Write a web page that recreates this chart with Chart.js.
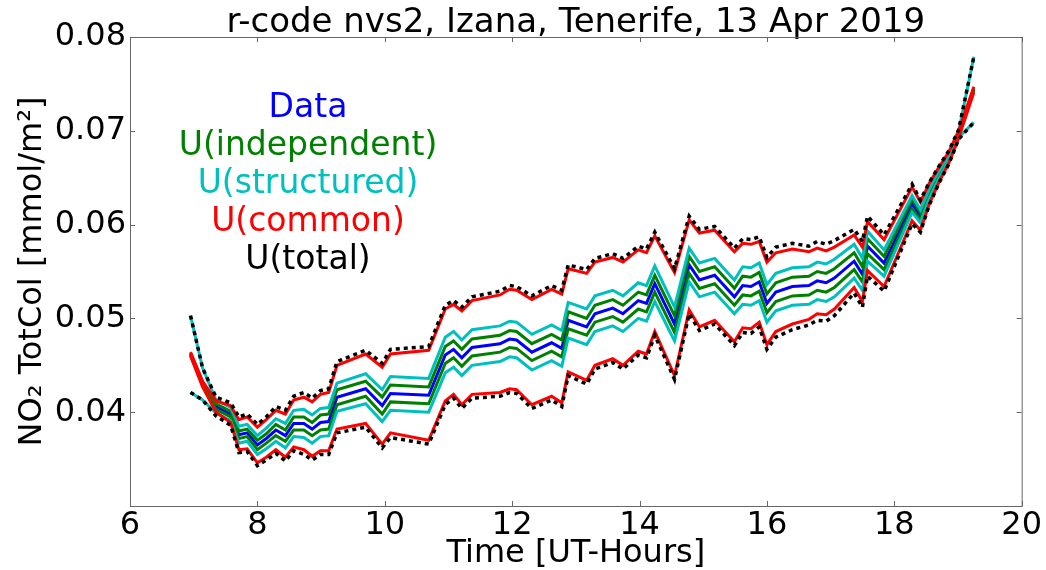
<!DOCTYPE html>
<html>
<head>
<meta charset="utf-8">
<script src="https://cdn.jsdelivr.net/npm/chart.js@4.4.1/dist/chart.umd.min.js"></script>
<style>
html, body { margin: 0; padding: 0; background: #fff; }
#wrap { width: 1046px; height: 570px; }
</style>
</head>
<body>
<div id="wrap"><canvas id="chart"></canvas></div>
<script>
// time of each measurement [UT hours]
const hours = [6.95, 7.14, 7.35, 7.58, 7.71, 7.84, 8.00, 8.14, 8.29, 8.44, 8.57, 8.73, 8.86, 8.99, 9.12, 9.25,
	9.70, 9.96, 10.09, 10.69, 10.95, 11.08, 11.21, 11.37, 11.81, 11.96, 12.07, 12.31, 12.62, 12.78, 12.88, 13.17,
	13.30, 13.58, 13.74, 13.98, 14.11, 14.24, 14.55, 14.78, 14.94, 15.18, 15.49, 15.62, 15.75, 15.88, 16.00, 16.14,
	16.40, 16.66, 16.79, 16.93, 17.06, 17.37, 17.50, 17.58, 17.84, 18.28, 18.41, 18.55, 18.70, 18.86, 19.01, 19.25];

// NO2 total column [mmol/m2]
const no2 = [0.0462, 0.0430, 0.0406, 0.0398, 0.0376, 0.0378, 0.0365, 0.0372, 0.0381, 0.0375, 0.0388, 0.0388, 0.0382, 0.0389, 0.0390, 0.0416,
	0.0425, 0.0407, 0.0420, 0.0418, 0.0461, 0.0467, 0.0458, 0.0469, 0.0473, 0.0478, 0.0477, 0.0464, 0.0474, 0.0468, 0.0498, 0.0491,
	0.0505, 0.0511, 0.0505, 0.0519, 0.0516, 0.0537, 0.0494, 0.0557, 0.0541, 0.0546, 0.0523, 0.0535, 0.0534, 0.0539, 0.0516, 0.0528,
	0.0534, 0.0535, 0.0540, 0.0538, 0.0543, 0.0561, 0.0547, 0.0577, 0.0559, 0.0622, 0.0609, 0.0633, 0.0653, 0.0672, 0.0696, 0.0744];

// uncertainties (half widths)
const uIndep = [0.0001, 0.0002, 0.0003, 0.0003, 0.0004, 0.0004, 0.0005, 0.0005, 0.0006, 0.0006, 0.0007, 0.0007, 0.0007, 0.0008, 0.0008, 0.0008,
	0.0008, 0.0009, 0.0009, 0.0009, 0.0009, 0.0009, 0.0009, 0.0009, 0.0009, 0.0009, 0.0009, 0.0009, 0.0009, 0.0009, 0.0009, 0.0009,
	0.0009, 0.0009, 0.0009, 0.0009, 0.0009, 0.0009, 0.0009, 0.0009, 0.0009, 0.0009, 0.0009, 0.0010, 0.0010, 0.0010, 0.0010, 0.0010,
	0.0010, 0.0010, 0.0010, 0.0010, 0.0010, 0.0009, 0.0008, 0.0008, 0.0007, 0.0005, 0.0004, 0.0003, 0.0002, 0.0002, 0.0001, 0.0001];

const uStruct = [0.0041, 0.0017, 0.0007, 0.0007, 0.0009, 0.0009, 0.0010, 0.0011, 0.0012, 0.0013, 0.0014, 0.0015, 0.0015, 0.0015, 0.0015, 0.0015,
	0.0016, 0.0017, 0.0018, 0.0018, 0.0019, 0.0019, 0.0019, 0.0019, 0.0019, 0.0019, 0.0019, 0.0019, 0.0019, 0.0019, 0.0019, 0.0019,
	0.0019, 0.0019, 0.0019, 0.0019, 0.0019, 0.0019, 0.0018, 0.0018, 0.0018, 0.0018, 0.0018, 0.0020, 0.0020, 0.0020, 0.0020, 0.0020,
	0.0020, 0.0020, 0.0020, 0.0020, 0.0020, 0.0018, 0.0017, 0.0016, 0.0014, 0.0009, 0.0007, 0.0005, 0.0004, 0.0003, 0.0003, 0.0035];

const uCommon = [0.0002, 0.0003, 0.0006, 0.0009, 0.0016, 0.0017, 0.0019, 0.0020, 0.0021, 0.0023, 0.0025, 0.0028, 0.0029, 0.0030, 0.0031, 0.0034,
	0.0037, 0.0041, 0.0042, 0.0048, 0.0049, 0.0048, 0.0050, 0.0050, 0.0052, 0.0053, 0.0053, 0.0056, 0.0057, 0.0058, 0.0055, 0.0057,
	0.0055, 0.0054, 0.0055, 0.0054, 0.0054, 0.0051, 0.0055, 0.0048, 0.0050, 0.0048, 0.0048, 0.0045, 0.0045, 0.0043, 0.0044, 0.0042,
	0.0040, 0.0036, 0.0035, 0.0034, 0.0033, 0.0028, 0.0029, 0.0026, 0.0025, 0.0018, 0.0015, 0.0011, 0.0008, 0.0006, 0.0004, 0.0003];

const uTotal = [0.0041, 0.0017, 0.0010, 0.0012, 0.0019, 0.0020, 0.0022, 0.0023, 0.0025, 0.0027, 0.0029, 0.0033, 0.0033, 0.0034, 0.0035, 0.0038,
	0.0041, 0.0045, 0.0047, 0.0052, 0.0053, 0.0052, 0.0054, 0.0054, 0.0056, 0.0057, 0.0057, 0.0060, 0.0061, 0.0062, 0.0059, 0.0061,
	0.0059, 0.0058, 0.0059, 0.0058, 0.0058, 0.0055, 0.0059, 0.0052, 0.0054, 0.0052, 0.0052, 0.0050, 0.0050, 0.0048, 0.0049, 0.0048,
	0.0046, 0.0042, 0.0042, 0.0041, 0.0040, 0.0034, 0.0035, 0.0032, 0.0030, 0.0021, 0.0017, 0.0012, 0.0009, 0.0007, 0.0005, 0.0035];

const xTicks = [6, 8, 10, 12, 14, 16, 18, 20];
const yTicks = [0.03, 0.04, 0.05, 0.06, 0.07, 0.08];

const legendNames = ['Data', 'U(independent)', 'U(structured)', 'U(common)', 'U(total)'];
const legendColors = ['#0000ff', '#008000', '#00bfbf', '#ff0000', '#000000'];

const FONT = 'DejaVu Sans';
const FRAME = '#666';

function band(u, sign) {
	return hours.map((h, i) => ({ x: h, y: no2[i] + sign * u[i] }));
}

function line(label, data, color, order, dash) {
	return {
		label,
		data,
		borderColor: color,
		borderWidth: dash ? 3.5 : 3,
		borderDash: dash || [],
		pointRadius: 0,
		fill: false,
		tension: 0,
		order,
	};
}

// lower order is drawn on top
const datasets = [
	line('Data', band(uIndep, 0), legendColors[0], 9),
	line('indep+', band(uIndep, 1), legendColors[1], 8),
	line('indep-', band(uIndep, -1), legendColors[1], 7),
	line('struct+', band(uStruct, 1), legendColors[2], 6),
	line('struct-', band(uStruct, -1), legendColors[2], 5),
	line('common+', band(uCommon, 1), legendColors[3], 4),
	line('common-', band(uCommon, -1), legendColors[3], 3),
	line('total+', band(uTotal, 1), legendColors[4], 2, [4, 4]),
	line('total-', band(uTotal, -1), legendColors[4], 1, [4, 4]),
];

// box around the plot with inward tick marks, like matplotlib
const framePlugin = {
	id: 'frame',
	afterDraw(chart) {
		const { ctx, chartArea: a, scales } = chart;
		ctx.save();
		ctx.strokeStyle = FRAME;
		ctx.lineWidth = 1;
		ctx.strokeRect(a.left + 0.5, a.top + 0.5, a.right - a.left, a.bottom - a.top);
		ctx.beginPath();
		xTicks.forEach((v) => {
			const x = Math.round(scales.x.getPixelForValue(v)) + 0.5;
			ctx.moveTo(x, a.bottom); ctx.lineTo(x, a.bottom - 5);
			ctx.moveTo(x, a.top); ctx.lineTo(x, a.top + 5);
		});
		yTicks.forEach((v) => {
			const y = Math.round(scales.y.getPixelForValue(v)) + 0.5;
			ctx.moveTo(a.left, y); ctx.lineTo(a.left + 5, y);
			ctx.moveTo(a.right, y); ctx.lineTo(a.right - 5, y);
		});
		ctx.stroke();
		ctx.restore();
	},
};

// coloured text legend
const textLegend = {
	id: 'textLegend',
	afterDraw(chart) {
		const { ctx } = chart;
		ctx.save();
		ctx.font = `33px "${FONT}"`;
		ctx.textAlign = 'center';
		ctx.textBaseline = 'alphabetic';
		legendNames.forEach((name, i) => {
			ctx.fillStyle = legendColors[i];
			ctx.fillText(name, 308, 117 + i * 38);
		});
		ctx.restore();
	},
};

Chart.defaults.font.family = FONT;
Chart.defaults.color = '#000';

new Chart(document.getElementById('chart'), {
	type: 'line',
	data: { datasets },
	options: {
		responsive: true,
		maintainAspectRatio: false,
		animation: false,
		devicePixelRatio: 1,
		layout: { padding: { left: 0, right: 24, top: 0, bottom: 0 } },
		plugins: {
			legend: { display: false },
			tooltip: { enabled: false },
			title: {
				display: true,
				text: 'r-code nvs2, Izana, Tenerife, 13 Apr 2019',
				fullSize: false,
				font: { size: 34, weight: 'normal', lineHeight: '27px' },
				color: '#000',
				padding: { top: 10, bottom: 0 },
			},
		},
		scales: {
			x: {
				type: 'linear',
				min: 6,
				max: 20,
				grid: { display: false, drawTicks: false },
				border: { display: false },
				afterBuildTicks: (s) => { s.ticks = xTicks.map((v) => ({ value: v })); },
				afterFit: (s) => { s.height = 64; },
				ticks: {
					font: { size: 32, lineHeight: 1 },
					padding: 4,
					maxRotation: 0,
					callback: (v) => String(v),
				},
				title: {
					display: true,
					text: 'Time [UT-Hours]',
					font: { size: 32, lineHeight: 1 },
					padding: { top: 0, bottom: 0 },
				},
			},
			y: {
				type: 'linear',
				min: 0.03,
				max: 0.08,
				grid: { display: false, drawTicks: false },
				border: { display: false },
				afterBuildTicks: (s) => { s.ticks = yTicks.map((v) => ({ value: v })); },
				afterFit: (s) => { s.width = 130; },
				ticks: {
					font: { size: 32, lineHeight: 1 },
					padding: 4,
					callback: (v) => (Math.abs(v - 0.03) < 1e-9 ? '' : v.toFixed(2)),
				},
				title: {
					display: true,
					text: 'NO₂ TotCol [mmol/m²]',
					font: { size: 32, lineHeight: 1 },
					padding: { top: 17, bottom: 0 },
				},
			},
		},
	},
	plugins: [framePlugin, textLegend],
});
</script>
</body>
</html>
